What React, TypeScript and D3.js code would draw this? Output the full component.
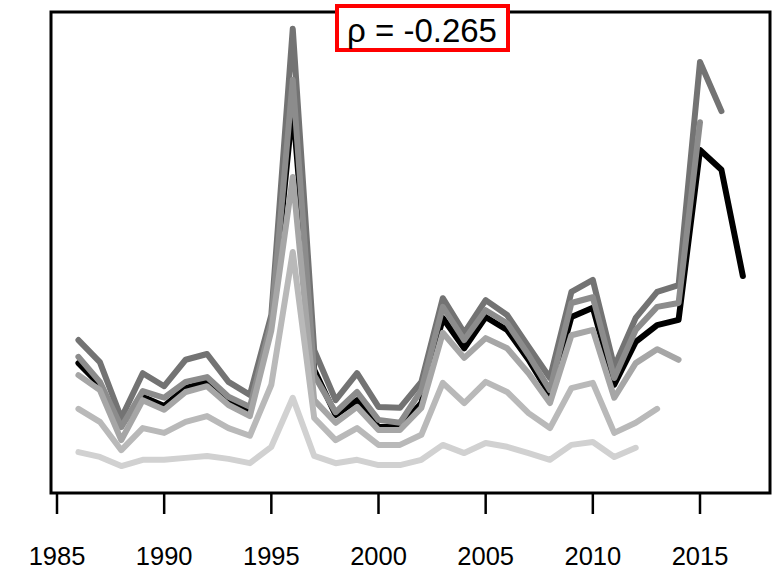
import React from "react";
import * as d3 from "d3";

// Annual index series, starting in 1986; each series ends in a different year.
const startYear = 1986;
const seriesA = [31.8, 27.2, 15.6, 24.9, 22.2, 27.7, 28.9, 23.1, 20.4, 37.0, 96.5, 29.7, 19.3, 24.9, 17.9, 17.7, 23.1, 40.5, 33.3, 40.1, 37.0, 30.4, 23.9, 41.8, 44.3, 26.2, 36.4, 41.8, 43.2, 89.6, 79.4];
const seriesB = [27.0, 22.5, 14.1, 20.0, 18.1, 21.8, 23.1, 19.3, 16.8, 35.8, 80.5, 25.6, 16.2, 19.3, 13.7, 13.7, 18.7, 36.4, 30.1, 36.6, 33.9, 27.7, 20.4, 36.6, 38.5, 22.5, 31.4, 34.9, 36.0, 71.3, 67.2, 45.1];
const seriesC = [28.3, 23.1, 13.7, 21.2, 19.8, 23.1, 24.1, 20.0, 17.9, 35.6, 85.9, 24.5, 16.8, 21.0, 15.2, 14.6, 21.4, 38.7, 31.8, 38.0, 35.3, 28.7, 21.4, 39.5, 40.7, 23.9, 33.9, 38.7, 39.5, 77.1];
const seriesD = [24.5, 21.4, 11.0, 19.3, 17.3, 21.0, 22.2, 18.3, 16.0, 33.8, 65.7, 19.3, 14.6, 17.9, 13.1, 13.1, 17.7, 33.3, 28.1, 32.2, 30.1, 24.9, 18.7, 32.8, 33.9, 19.8, 27.0, 29.9, 27.7];
const seriesE = [17.5, 14.8, 8.9, 13.5, 12.5, 14.8, 16.0, 13.5, 11.9, 22.5, 50.1, 15.6, 11.0, 13.5, 10.0, 10.0, 12.1, 22.9, 18.7, 23.1, 21.0, 16.6, 13.5, 21.8, 22.9, 12.5, 14.6, 17.5];
const seriesF = [8.5, 7.5, 5.6, 6.9, 6.9, 7.3, 7.7, 7.1, 6.2, 9.6, 19.8, 7.7, 6.2, 6.9, 5.8, 5.8, 6.9, 10.0, 8.3, 10.4, 9.6, 8.3, 6.9, 10.0, 10.6, 7.5, 9.4];

const tickYears = [1985, 1990, 1995, 2000, 2005, 2010, 2015];
const rhoLabel = "ρ = -0.265";

// drawing order: black first, then grays from dark to light
const layers = [
  { values: seriesB, color: "#000000" },
  { values: seriesA, color: "#737373" },
  { values: seriesC, color: "#8c8c8c" },
  { values: seriesD, color: "#a6a6a6" },
  { values: seriesE, color: "#b9b9b9" },
  { values: seriesF, color: "#d1d1d1" },
];

const W = 774;
const H = 571;
const frame = { left: 51, top: 12, right: 770, bottom: 493 };

export default function App() {
  const x = d3.scaleLinear().domain([1985, 2015]).range([57, 700]);
  const y = d3.scaleLinear().domain([0, 100]).range([frame.bottom, frame.top]);

  const line = d3
    .line<number>()
    .x((_, i) => x(startYear + i))
    .y((v) => y(v));

  return (
    <svg
      width={W}
      height={H}
      style={{ position: "fixed", left: 0, top: 0, background: "#fff" }}
      fontFamily="'Liberation Sans', Arial, sans-serif"
    >
      <rect x={0} y={0} width={W} height={H} fill="#fff" />
      {layers.map((l, i) => (
        <path
          key={i}
          d={line(l.values) || ""}
          fill="none"
          stroke={l.color}
          strokeWidth={6}
          strokeLinejoin="round"
          strokeLinecap="round"
        />
      ))}
      <rect
        x={frame.left}
        y={frame.top}
        width={frame.right - frame.left}
        height={frame.bottom - frame.top}
        fill="none"
        stroke="#000"
        strokeWidth={3}
      />
      {tickYears.map((t) => (
        <g key={t}>
          <line x1={x(t)} x2={x(t)} y1={frame.bottom} y2={frame.bottom + 21} stroke="#000" strokeWidth={2.5} />
          <text x={x(t)} y={565} textAnchor="middle" fontSize={25.5} fill="#000">
            {t}
          </text>
        </g>
      ))}
      <rect x={337} y={6} width={171} height={44} fill="#fff" stroke="#ff0000" strokeWidth={4} />
      <text x={422} y={42} textAnchor="middle" fontSize={33} fill="#000">
        {rhoLabel}
      </text>
    </svg>
  );
}
